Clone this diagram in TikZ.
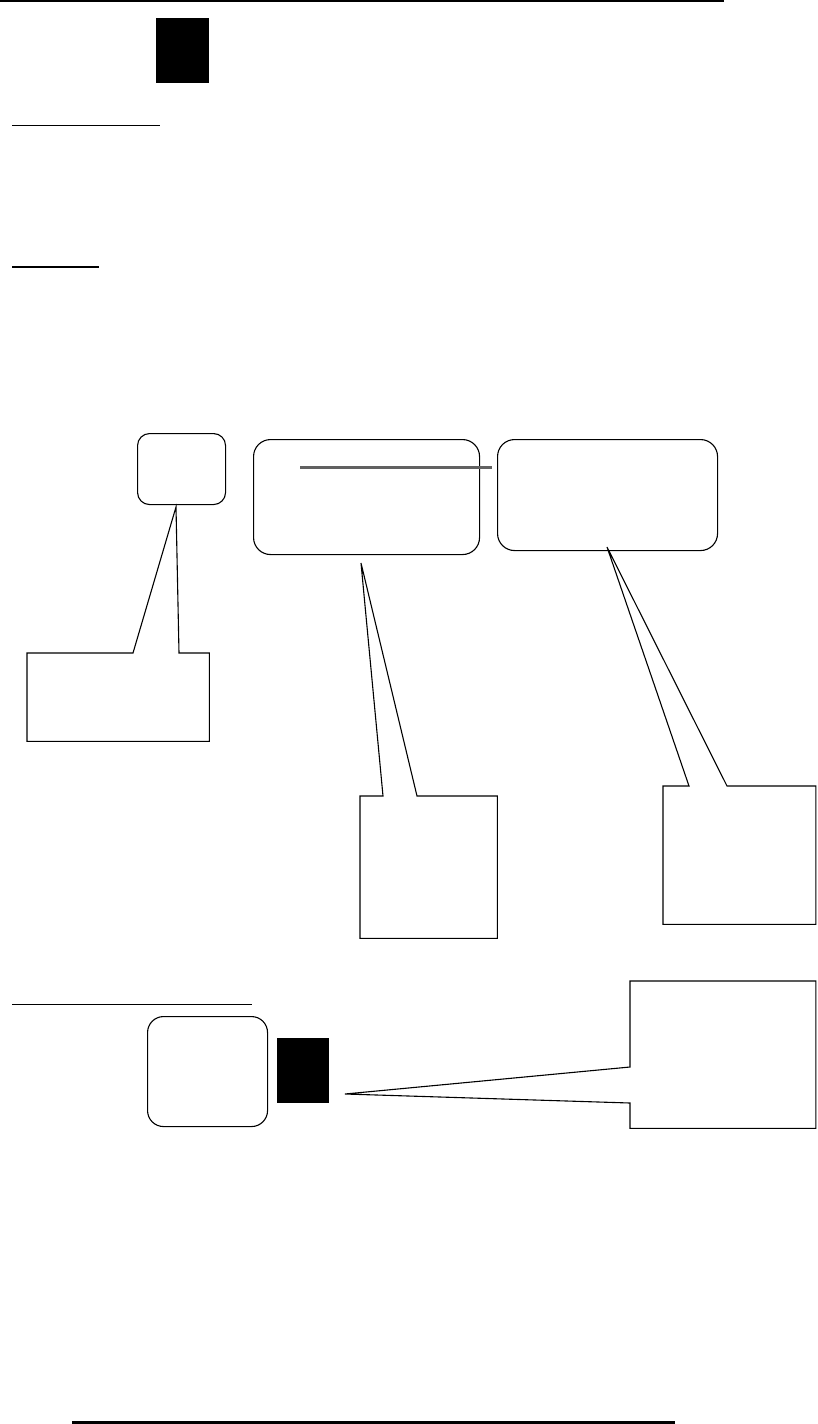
\documentclass[tikz,border=0pt]{standalone}
\begin{document}
\begin{tikzpicture}[x=1pt,y=-1pt,
  rbox/.style={draw, line width=1.1pt, rounded corners=#1, inner sep=0pt, anchor=north west},
  rbox/.default=14pt,
  plainbox/.style={inner sep=0pt, anchor=north west},
  outl/.style={draw, line width=1.1pt, line join=miter},
  solidblock/.style={fill=black, draw=none, inner sep=0pt, anchor=north west},
  rulewidth/.style={line width=#1},
]
\useasboundingbox (0,0) rectangle (817,1424);

% rules / underlines
\coordinate (topL) at (0,1);   \coordinate (topR) at (724,1);
\draw[rulewidth=2pt] (topL) -- (topR);
\coordinate (u1L) at (12,125.5); \coordinate (u1R) at (160,125.5);
\draw[rulewidth=1.8pt] (u1L) -- (u1R);
\coordinate (u2L) at (12,267); \coordinate (u2R) at (99,267);
\draw[rulewidth=1.2pt] (u2L) -- (u2R);
\coordinate (u3L) at (12,1004.5); \coordinate (u3R) at (252,1004.5);
\draw[rulewidth=1.2pt] (u3L) -- (u3R);
\coordinate (botL) at (72,1422.5); \coordinate (botR) at (675,1422.5);
\draw[rulewidth=2.5pt] (botL) -- (botR);

% black blocks
\node[solidblock, minimum width=53pt, minimum height=65pt] (blk1) at (156,18) {};
\node[solidblock, minimum width=52pt, minimum height=65pt] (blk2) at (277,1038) {};

% rounded boxes
\node[rbox=12pt, minimum width=88pt, minimum height=71pt] (A) at (137,433) {};
\node[rbox=17pt, minimum width=226pt, minimum height=115pt] (B) at (253,439) {};
\node[rbox=17pt, minimum width=220pt, minimum height=111pt] (C) at (497,439) {};
\node[rbox=16pt, minimum width=120pt, minimum height=110pt] (D) at (147,1016) {};

% grey bar across B into C gap
\coordinate (gL) at (300,467.5); \coordinate (gR) at (492,467.5);
\draw[line width=2.5pt, color=black!62] (gL) -- (gR);

% callout 1 (from box A)
\node[plainbox, minimum width=182pt, minimum height=88pt] (c1) at (27,653) {};
\coordinate (t1) at (176,507);
\draw[outl] (c1.north west) -- (133,653) -- (t1) -- (179,653) -- (c1.north east)
  -- (c1.south east) -- (c1.south west) -- cycle;

% callout 2 (from box B)
\node[plainbox, minimum width=137pt, minimum height=142pt] (c2) at (360,796) {};
\coordinate (t2) at (361,563);
\draw[outl] (c2.north west) -- (383,796) -- (t2) -- (417,796) -- (c2.north east)
  -- (c2.south east) -- (c2.south west) -- cycle;

% callout 3 (from box C)
\node[plainbox, minimum width=152.5pt, minimum height=138pt] (c3) at (663,786) {};
\coordinate (t3) at (607,547);
\draw[outl] (c3.north west) -- (689,786) -- (t3) -- (727,786) -- (c3.north east)
  -- (c3.south east) -- (c3.south west) -- cycle;

% callout 4 (bottom, pointing left)
\node[plainbox, minimum width=185.5pt, minimum height=147pt] (c4) at (630,981) {};
\coordinate (t4) at (345,1094);
\draw[outl] (c4.north west) -- (630,1067) -- (t4) -- (630,1103) -- (c4.south west)
  -- (c4.south east) -- (c4.north east) -- cycle;
\end{tikzpicture}
\end{document}
